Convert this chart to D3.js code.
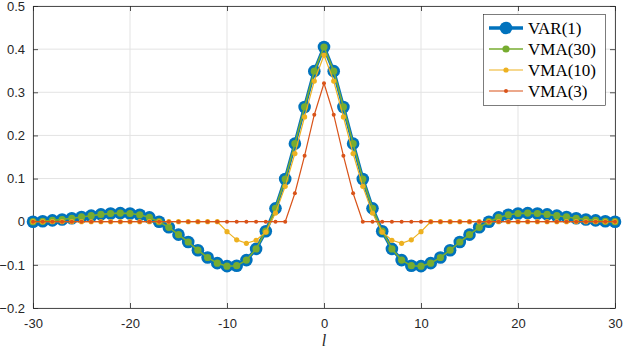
<!DOCTYPE html>
<html><head><meta charset="utf-8">
<script src="https://cdn.jsdelivr.net/npm/d3@7"></script>
<style>body{margin:0;background:#fff}svg{display:block}</style>
</head><body>
<svg id="c" width="623" height="349"></svg>
<script>
const lags = d3.range(-30, 31);
// one-sided values for l = 0..30, mirrored for negative lags
const varHalf = [0.405,0.349,0.266,0.181,0.099,0.031,-0.022,-0.063,-0.089,-0.102,-0.103,-0.096,-0.083,-0.066,-0.047,-0.030,-0.013,0.000,0.010,0.016,0.019,0.020,0.019,0.017,0.014,0.011,0.008,0.005,0.003,0.001,0.000];
const vma30Half = [0.405,0.349,0.266,0.181,0.099,0.031,-0.022,-0.063,-0.089,-0.102,-0.103,-0.096,-0.083,-0.066,-0.047,-0.030,-0.013,0.000,0.010,0.016,0.019,0.020,0.019,0.017,0.014,0.011,0.008,0.005,0.003,0.001,0.000];
const vma10Half = [0.386,0.326,0.243,0.158,0.082,0.020,-0.024,-0.043,-0.050,-0.042,-0.023,0,0,0,0,0,0,0,0,0,0,0,0,0,0,0,0,0,0,0,0];
const vma3Half = [0.321,0.248,0.153,0.066,0,0,0,0,0,0,0,0,0,0,0,0,0,0,0,0,0,0,0,0,0,0,0,0,0,0,0];
const seriesNames = ["VAR(1)","VMA(30)","VMA(10)","VMA(3)"];
const xTicks = [-30,-20,-10,0,10,20,30];
const yTicks = [-0.2,-0.1,0,0.1,0.2,0.3,0.4,0.5];

const full = h => lags.map(l => h[Math.abs(l)]);
const data = [full(varHalf), full(vma30Half), full(vma10Half), full(vma3Half)];
const styles = [
  {color:"#0072BD", lw:3.5, r:6.3},
  {color:"#77AC30", lw:1.6, r:3.6},
  {color:"#EDB120", lw:1.2, r:2.6},
  {color:"#D95319", lw:1.2, r:2.0}
];

const L=33, R=615, T=6, B=308;
const x = d3.scaleLinear().domain([-30,30]).range([L,R]);
const y = d3.scaleLinear().domain([-0.2,0.5]).range([B,T]);
const svg = d3.select("#c");
const axc = "#262626";
const tickFont = "'Liberation Sans', Arial, sans-serif";

// grid
svg.append("g").selectAll("line").data(xTicks).join("line")
  .attr("x1",d=>x(d)).attr("x2",d=>x(d)).attr("y1",T).attr("y2",B)
  .attr("stroke","#e3e3e3").attr("stroke-width",1);
svg.append("g").selectAll("line").data(yTicks).join("line")
  .attr("y1",d=>y(d)).attr("y2",d=>y(d)).attr("x1",L).attr("x2",R)
  .attr("stroke","#e3e3e3").attr("stroke-width",1);

// axes with inward ticks
const fmt = d => d===0 ? "0" : d3.format("")(+d.toFixed(1));
const gx = svg.append("g").attr("transform",`translate(0,${B})`)
  .call(d3.axisBottom(x).tickValues(xTicks).tickSizeInner(-5).tickSizeOuter(0).tickPadding(11).tickFormat(d=>d));
const gxt = svg.append("g").attr("transform",`translate(0,${T})`)
  .call(d3.axisTop(x).tickValues(xTicks).tickSizeInner(-5).tickSizeOuter(0).tickFormat(""));
const gy = svg.append("g").attr("transform",`translate(${L},0)`)
  .call(d3.axisLeft(y).tickValues(yTicks).tickSizeInner(-5).tickSizeOuter(0).tickPadding(8).tickFormat(fmt));
const gyr = svg.append("g").attr("transform",`translate(${R},0)`)
  .call(d3.axisRight(y).tickValues(yTicks).tickSizeInner(-5).tickSizeOuter(0).tickFormat(""));
[gx,gxt,gy,gyr].forEach(g=>{
  g.selectAll("path").attr("stroke",axc).attr("stroke-width",0.8);
  g.selectAll("line").attr("stroke",axc).attr("stroke-width",0.8);
  g.selectAll("text").attr("fill",axc).style("font-family",tickFont).style("font-size","13px");
});

// series
const line = d3.line().x((d,i)=>x(lags[i])).y(d=>y(d));
data.forEach((vals,k)=>{
  const s = styles[k];
  const g = svg.append("g");
  g.append("path").datum(vals).attr("d",line).attr("fill","none")
    .attr("stroke",s.color).attr("stroke-width",s.lw).attr("stroke-linejoin","round");
  g.selectAll("circle").data(vals).join("circle")
    .attr("cx",(d,i)=>x(lags[i])).attr("cy",d=>y(d)).attr("r",s.r).attr("fill",s.color);
});

// x label
svg.append("text").attr("x",x(0)).attr("y",346).attr("text-anchor","middle")
  .style("font-family","'Liberation Serif', serif").style("font-style","italic").style("font-size","16px")
  .attr("fill",axc).text("l");

// legend
const lg = svg.append("g");
lg.append("rect").attr("x",483.5).attr("y",14.5).attr("width",122).attr("height",91)
  .attr("fill","#fff").attr("stroke",axc).attr("stroke-width",0.6);
const ly = [28,49,70,91];
seriesNames.forEach((n,k)=>{
  const s = styles[k];
  lg.append("line").attr("x1",489).attr("x2",523).attr("y1",ly[k]).attr("y2",ly[k])
    .attr("stroke",s.color).attr("stroke-width",s.lw);
  lg.append("circle").attr("cx",506).attr("cy",ly[k]).attr("r",s.r).attr("fill",s.color);
  lg.append("text").attr("x",528).attr("y",ly[k]).attr("dy","0.35em")
    .style("font-family","'Liberation Serif', serif").style("font-size","17px")
    .attr("fill","#000").text(n);
});
</script>
</body></html>
